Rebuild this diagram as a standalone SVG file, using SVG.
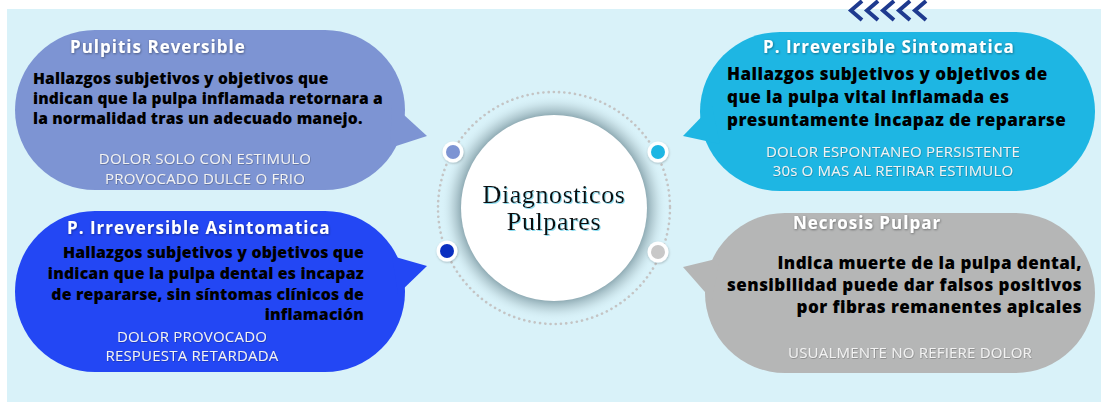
<svg xmlns="http://www.w3.org/2000/svg" width="1101" height="402" viewBox="0 0 1101 402">
<defs>
<style>
.title{font-family:"Open Sans","Liberation Sans",sans-serif;font-weight:700;font-size:17px;letter-spacing:1px;fill:#ffffff;filter:url(#ts)}
.body{font-family:"Open Sans","Liberation Sans",sans-serif;font-weight:800;font-size:15.6px;letter-spacing:0.15px;fill:#000000}
.body2{font-family:"Open Sans","Liberation Sans",sans-serif;font-weight:800;font-size:15.9px;letter-spacing:0.15px;fill:#000000}
.bodyL{font-family:"Open Sans","Liberation Sans",sans-serif;font-weight:800;font-size:17px;letter-spacing:0.45px;fill:#000000}
.sub{font-family:"Open Sans","Liberation Sans",sans-serif;font-weight:400;font-size:15px;letter-spacing:0.2px;fill:#f2f2f2;filter:url(#ts2)}
.center{font-family:"Liberation Serif","DejaVu Serif",serif;font-size:26px;letter-spacing:0.6px;fill:#111111;filter:url(#ts3)}
.chev{fill:none;stroke:#1e3a8f;stroke-width:4;stroke-linecap:butt;stroke-linejoin:miter}
.dotw{fill:#ffffff;filter:url(#ds)}
</style>
<filter id="ts" x="-10%" y="-30%" width="120%" height="160%"><feDropShadow dx="0.6" dy="0.8" stdDeviation="0.8" flood-color="#000" flood-opacity="0.45"/></filter>
<filter id="ts2" x="-10%" y="-30%" width="120%" height="160%"><feDropShadow dx="0.5" dy="0.6" stdDeviation="0.7" flood-color="#000" flood-opacity="0.35"/></filter>
<filter id="ts3" x="-10%" y="-30%" width="120%" height="160%"><feDropShadow dx="1" dy="1" stdDeviation="0.3" flood-color="#7fd8ef" flood-opacity="0.9"/></filter>
<filter id="ds" x="-50%" y="-50%" width="200%" height="200%"><feDropShadow dx="0.5" dy="1" stdDeviation="1" flood-color="#000" flood-opacity="0.25"/></filter>
<radialGradient id="ring" cx="554" cy="208" r="113" gradientUnits="userSpaceOnUse">
<stop offset="0.8" stop-color="#6f8d97" stop-opacity="0.85"/>
<stop offset="0.9" stop-color="#a7bfc6" stop-opacity="0.5"/>
<stop offset="1" stop-color="#d9f2f9" stop-opacity="0"/>
</radialGradient>
</defs>
<rect x="0" y="0" width="1101" height="402" fill="#ffffff"/>
<rect x="7" y="9" width="1094" height="393" fill="#d9f2f9"/>
<g id="chevrons">
<polyline class="chev" points="862,1 851,10.5 862,20"/>
<polyline class="chev" points="878,1 867,10.5 878,20"/>
<polyline class="chev" points="894,1 883,10.5 894,20"/>
<polyline class="chev" points="910,1 899,10.5 910,20"/>
<polyline class="chev" points="926,1 915,10.5 926,20"/>
</g>
<g id="connectors">
<circle cx="554" cy="208" r="116" fill="none" stroke="#c4c4c4" stroke-width="2.6" stroke-dasharray="0.1 5.2" stroke-linecap="round"/>
</g>
<g id="center">
<circle cx="554" cy="208" r="113" fill="url(#ring)"/>
<circle cx="554" cy="208" r="93" fill="#ffffff"/>
<text class="center" x="554" y="203" text-anchor="middle">Diagnosticos</text>
<text class="center" x="554" y="230" text-anchor="middle">Pulpares</text>
</g>
<g id="dots">
<circle class="dotw" cx="453" cy="152" r="10.5"/><circle cx="453" cy="152" r="7" fill="#7d94d3"/>
<circle class="dotw" cx="658" cy="152" r="10.5"/><circle cx="658" cy="152" r="7" fill="#1eb6e3"/>
<circle class="dotw" cx="447" cy="251" r="10.5"/><circle cx="447" cy="251" r="7" fill="#0a2fc0"/>
<circle class="dotw" cx="658" cy="252" r="10.5"/><circle cx="658" cy="252" r="7" fill="#c8c8c8"/>
</g>
<g id="pulpitis-reversible">
<rect x="15" y="30" width="390" height="160" rx="80" ry="80" fill="#7d94d3"/>
<polygon points="392,104 427,136 390,148" fill="#7d94d3"/>
<text class="title" x="70" y="53">Pulpitis Reversible</text>
<text class="body" x="33" y="84">Hallazgos subjetivos y objetivos que</text>
<text class="body" x="33" y="104">indican que la pulpa inflamada retornara a</text>
<text class="body" x="33" y="124">la normalidad tras un adecuado manejo.</text>
<text class="sub" x="205" y="164" text-anchor="middle">DOLOR SOLO CON ESTIMULO</text>
<text class="sub" x="205" y="184" text-anchor="middle">PROVOCADO DULCE O FRIO</text>
</g>
<g id="p-irreversible-asintomatica">
<rect x="15" y="211" width="390" height="161" rx="80" ry="80" fill="#2347f4"/>
<polygon points="392,256 427,266 398,294" fill="#2347f4"/>
<text class="title" x="67" y="234">P. Irreversible Asintomatica</text>
<text class="body2" x="364" y="258" text-anchor="end">Hallazgos subjetivos y objetivos que</text>
<text class="body2" x="364" y="279" text-anchor="end">indican que la pulpa dental es incapaz</text>
<text class="body2" x="364" y="300" text-anchor="end">de repararse, sin síntomas clínicos de</text>
<text class="body2" x="364" y="320" text-anchor="end">inflamación</text>
<text class="sub" x="192" y="342" text-anchor="middle">DOLOR PROVOCADO</text>
<text class="sub" x="192" y="361" text-anchor="middle">RESPUESTA RETARDADA</text>
</g>
<g id="p-irreversible-sintomatica">
<rect x="700" y="32" width="395" height="159" rx="80" ry="80" fill="#1eb6e3"/>
<polygon points="712,106 683,136 720,144" fill="#1eb6e3"/>
<text class="title" x="763" y="53">P. Irreversible Sintomatica</text>
<text class="bodyL" x="727" y="80">Hallazgos subjetivos y objetivos de</text>
<text class="bodyL" x="727" y="103">que la pulpa vital inflamada es</text>
<text class="bodyL" x="727" y="126">presuntamente incapaz de repararse</text>
<text class="sub" x="893" y="157" text-anchor="middle">DOLOR ESPONTANEO PERSISTENTE</text>
<text class="sub" x="893" y="176" text-anchor="middle">30s O MAS AL RETIRAR ESTIMULO</text>
</g>
<g id="necrosis-pulpar">
<rect x="705" y="213" width="390" height="160" rx="80" ry="80" fill="#b5b6b6"/>
<polygon points="720,258 683,267 712,300" fill="#b5b6b6"/>
<text class="title" x="793" y="229">Necrosis Pulpar</text>
<text class="bodyL" x="1082" y="269" text-anchor="end">Indica muerte de la pulpa dental,</text>
<text class="bodyL" x="1082" y="291" text-anchor="end">sensibilidad puede dar falsos positivos</text>
<text class="bodyL" x="1082" y="313" text-anchor="end">por fibras remanentes apicales</text>
<text class="sub" x="910" y="358" text-anchor="middle">USUALMENTE NO REFIERE DOLOR</text>
</g>
</svg>
